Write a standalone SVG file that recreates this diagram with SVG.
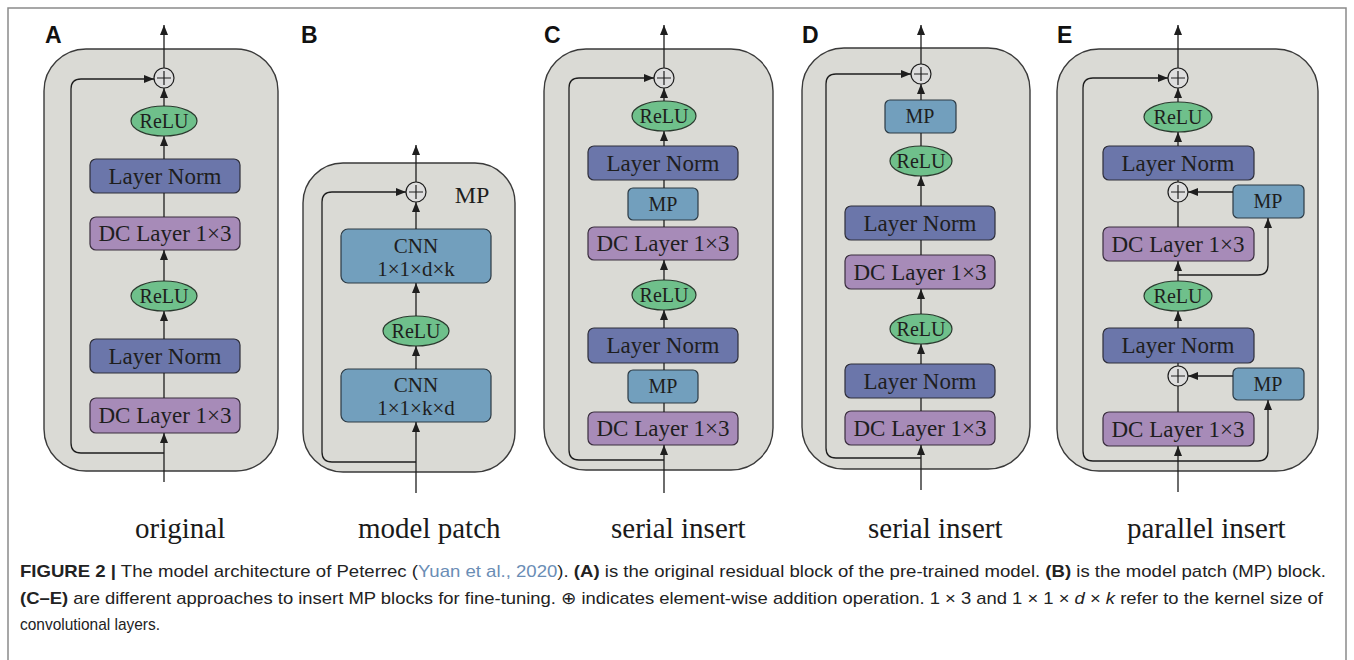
<svg xmlns="http://www.w3.org/2000/svg" width="1354" height="660" viewBox="0 0 1354 660">
<defs>
<marker id="ah" markerUnits="userSpaceOnUse" markerWidth="11" markerHeight="9" refX="10" refY="4" orient="auto">
<path d="M0,0 L10,4 L0,8 z" fill="#1e1e1e"/>
</marker>
<style>
.panel{fill:#dadad5;stroke:#3a3a3a;stroke-width:1.4}
.ln{fill:#6b76aa;stroke:#2e2e3a;stroke-width:1.2}
.dc{fill:#a78bb8;stroke:#3a2e3e;stroke-width:1.2}
.mp{fill:#729fbd;stroke:#2c3a44;stroke-width:1.2}
.relu{fill:#6fc08b;stroke:#2a3a2e;stroke-width:1.2}
.plus{fill:#dedede;stroke:#1e1e1e;stroke-width:1.2}
.pl{stroke:#1e1e1e;stroke-width:1.2;fill:none}
.c{stroke:#1e1e1e;stroke-width:1.3;fill:none}
.a{stroke:#1e1e1e;stroke-width:1.3;fill:none;marker-end:url(#ah)}
.t{font-family:"Liberation Serif","Times New Roman",serif;font-size:23px;fill:#1e1e1e;text-anchor:middle}
.tc{font-family:"Liberation Serif","Times New Roman",serif;font-size:21px;fill:#1e1e1e;text-anchor:middle}
.tr{font-family:"Liberation Serif","Times New Roman",serif;font-size:20px;fill:#1e1e1e;text-anchor:middle}
.lab{font-family:"Liberation Sans",Arial,sans-serif;font-weight:bold;font-size:23px;fill:#111}
.sub{font-family:"Liberation Serif","Times New Roman",serif;font-size:29px;fill:#1a1a1a}
.cap{font-family:"Liberation Sans",Arial,sans-serif;font-size:17px;fill:#222}
.b{font-weight:bold}
.ref{fill:#6a8db5}
</style>
</defs>
<rect x="8" y="8" width="1338" height="700" fill="none" stroke="#8a8a8a" stroke-width="1.5"/>

<!-- Panel A -->
<g id="panelA">
<rect class="panel" x="44" y="49" width="234" height="422" rx="42"/>
<text class="lab" x="45" y="43">A</text>
</g>
<g id="A_plus"><circle class="plus" cx="164" cy="78" r="10"/><path class="pl" d="M157,78 H171 M164,71 V85"/></g>
<g id="A_relu1"><ellipse class="relu" cx="164" cy="121" rx="33" ry="15"/><text class="tr" x="164" y="128">ReLU</text></g>
<g id="A_ln1"><rect class="ln" x="90" y="159" width="150" height="34" rx="6"/><text class="t" x="165" y="184">Layer Norm</text></g>
<g id="A_dc1"><rect class="dc" x="90" y="217" width="150" height="33" rx="6"/><text class="t" x="165" y="241">DC Layer 1×3</text></g>
<g id="A_relu2"><ellipse class="relu" cx="164" cy="296" rx="33" ry="15"/><text class="tr" x="164" y="303">ReLU</text></g>
<g id="A_ln2"><rect class="ln" x="90" y="339" width="150" height="34" rx="6"/><text class="t" x="165" y="364">Layer Norm</text></g>
<g id="A_dc2"><rect class="dc" x="90" y="398" width="150" height="35" rx="6"/><text class="t" x="165" y="423">DC Layer 1×3</text></g>

<!-- Panel B -->
<g id="panelB">
<rect class="panel" x="303" y="163" width="212" height="309" rx="40"/>
<text class="lab" x="301" y="43">B</text>
<text class="t" x="472" y="203" style="font-size:24px">MP</text>
</g>
<g id="B_plus"><circle class="plus" cx="416" cy="192" r="10"/><path class="pl" d="M409,192 H423 M416,185 V199"/></g>
<g id="B_cnn1"><rect class="mp" x="341" y="229" width="150" height="54" rx="7"/><text class="tc" x="416" y="253">CNN</text><text class="tc" x="416" y="276">1×1×d×k</text></g>
<g id="B_relu"><ellipse class="relu" cx="416" cy="331" rx="33" ry="15"/><text class="tr" x="416" y="338">ReLU</text></g>
<g id="B_cnn2"><rect class="mp" x="341" y="369" width="150" height="53" rx="7"/><text class="tc" x="416" y="392">CNN</text><text class="tc" x="416" y="415">1×1×k×d</text></g>

<!-- Panel C -->
<g id="panelC">
<rect class="panel" x="544" y="49" width="229" height="421" rx="42"/>
<text class="lab" x="544" y="43">C</text>
</g>
<g id="C_plus"><circle class="plus" cx="664" cy="78" r="10"/><path class="pl" d="M657,78 H671 M664,71 V85"/></g>
<g id="C_relu1"><ellipse class="relu" cx="664" cy="116" rx="32" ry="15"/><text class="tr" x="664" y="123">ReLU</text></g>
<g id="C_ln1"><rect class="ln" x="588" y="146" width="150" height="34" rx="6"/><text class="t" x="663" y="171">Layer Norm</text></g>
<g id="C_mp1"><rect class="mp" x="628" y="188" width="70" height="32" rx="5"/><text class="tr" x="663" y="211">MP</text></g>
<g id="C_dc1"><rect class="dc" x="588" y="227" width="150" height="33" rx="6"/><text class="t" x="663" y="251">DC Layer 1×3</text></g>
<g id="C_relu2"><ellipse class="relu" cx="664" cy="295" rx="32" ry="15"/><text class="tr" x="664" y="302">ReLU</text></g>
<g id="C_ln2"><rect class="ln" x="588" y="328" width="150" height="35" rx="6"/><text class="t" x="663" y="353">Layer Norm</text></g>
<g id="C_mp2"><rect class="mp" x="628" y="370" width="70" height="33" rx="5"/><text class="tr" x="663" y="393">MP</text></g>
<g id="C_dc2"><rect class="dc" x="588" y="412" width="150" height="33" rx="6"/><text class="t" x="663" y="436">DC Layer 1×3</text></g>

<!-- Panel D -->
<g id="panelD">
<rect class="panel" x="802" y="48" width="228" height="421" rx="42"/>
<text class="lab" x="802" y="43">D</text>
</g>
<g id="D_plus"><circle class="plus" cx="921" cy="74" r="10"/><path class="pl" d="M914,74 H928 M921,67 V81"/></g>
<g id="D_mp"><rect class="mp" x="885" y="100" width="71" height="33" rx="5"/><text class="tr" x="920" y="123">MP</text></g>
<g id="D_relu1"><ellipse class="relu" cx="921" cy="161" rx="31" ry="15"/><text class="tr" x="921" y="168">ReLU</text></g>
<g id="D_ln1"><rect class="ln" x="845" y="206" width="150" height="34" rx="6"/><text class="t" x="920" y="231">Layer Norm</text></g>
<g id="D_dc1"><rect class="dc" x="845" y="255" width="150" height="34" rx="6"/><text class="t" x="920" y="280">DC Layer 1×3</text></g>
<g id="D_relu2"><ellipse class="relu" cx="921" cy="329" rx="31" ry="15"/><text class="tr" x="921" y="336">ReLU</text></g>
<g id="D_ln2"><rect class="ln" x="845" y="364" width="150" height="34" rx="6"/><text class="t" x="920" y="389">Layer Norm</text></g>
<g id="D_dc2"><rect class="dc" x="845" y="411" width="150" height="34" rx="6"/><text class="t" x="920" y="436">DC Layer 1×3</text></g>

<!-- Panel E -->
<g id="panelE">
<rect class="panel" x="1057" y="49" width="261" height="422" rx="42"/>
<text class="lab" x="1057" y="43">E</text>
</g>
<g id="E_plus1"><circle class="plus" cx="1178" cy="78" r="10"/><path class="pl" d="M1171,78 H1185 M1178,71 V85"/></g>
<g id="E_relu1"><ellipse class="relu" cx="1178" cy="117" rx="34" ry="15"/><text class="tr" x="1178" y="124">ReLU</text></g>
<g id="E_ln1"><rect class="ln" x="1103" y="146" width="151" height="34" rx="6"/><text class="t" x="1178" y="171">Layer Norm</text></g>
<g id="E_plus2"><circle class="plus" cx="1178" cy="192" r="10"/><path class="pl" d="M1171,192 H1185 M1178,185 V199"/></g>
<g id="E_mp1"><rect class="mp" x="1233" y="185" width="71" height="33" rx="5"/><text class="tr" x="1268" y="208">MP</text></g>
<g id="E_dc1"><rect class="dc" x="1103" y="227" width="151" height="34" rx="6"/><text class="t" x="1178" y="252">DC Layer 1×3</text></g>
<g id="E_relu2"><ellipse class="relu" cx="1178" cy="296" rx="34" ry="15"/><text class="tr" x="1178" y="303">ReLU</text></g>
<g id="E_ln2"><rect class="ln" x="1103" y="328" width="151" height="35" rx="6"/><text class="t" x="1178" y="353">Layer Norm</text></g>
<g id="E_plus3"><circle class="plus" cx="1178" cy="376" r="10"/><path class="pl" d="M1171,376 H1185 M1178,369 V383"/></g>
<g id="E_mp2"><rect class="mp" x="1233" y="368" width="71" height="32" rx="5"/><text class="tr" x="1268" y="391">MP</text></g>
<g id="E_dc2"><rect class="dc" x="1103" y="412" width="151" height="34" rx="6"/><text class="t" x="1178" y="437">DC Layer 1×3</text></g>

<!-- Connectors -->
<g id="connectors">
<!-- A -->
<path class="a" d="M164,68 V25"/>
<path class="a" d="M164,106 V88"/>
<path class="a" d="M164,159 V136"/>
<path class="c" d="M164,217 V193"/>
<path class="a" d="M164,281 V250"/>
<path class="a" d="M164,339 V311"/>
<path class="c" d="M164,398 V373"/>
<path class="a" d="M164,482 V433"/>
<path class="a" d="M164,453 H81 Q71,453 71,443 V89 Q71,79 81,79 H154"/>
<!-- B -->
<path class="a" d="M416,182 V145"/>
<path class="a" d="M416,229 V202"/>
<path class="a" d="M416,316 V283"/>
<path class="a" d="M416,369 V346"/>
<path class="a" d="M416,493 V422"/>
<path class="a" d="M416,462 H332 Q322,462 322,452 V202 Q322,192 332,192 H406"/>
<!-- C -->
<path class="a" d="M664,68 V25"/>
<path class="a" d="M664,101 V88"/>
<path class="a" d="M664,146 V131"/>
<path class="c" d="M664,188 V180"/>
<path class="c" d="M664,227 V220"/>
<path class="a" d="M664,280 V260"/>
<path class="a" d="M664,328 V310"/>
<path class="c" d="M664,370 V363"/>
<path class="c" d="M664,412 V403"/>
<path class="a" d="M664,493 V445"/>
<path class="a" d="M664,460 H579 Q569,460 569,450 V88 Q569,78 579,78 H654"/>
<!-- D -->
<path class="a" d="M921,64 V25"/>
<path class="a" d="M921,100 V84"/>
<path class="c" d="M921,146 V133"/>
<path class="a" d="M921,206 V176"/>
<path class="c" d="M921,255 V240"/>
<path class="a" d="M921,314 V289"/>
<path class="a" d="M921,364 V344"/>
<path class="c" d="M921,411 V398"/>
<path class="a" d="M921,490 V445"/>
<path class="a" d="M921,458 H836 Q826,458 826,448 V84 Q826,74 836,74 H911"/>
<!-- E -->
<path class="a" d="M1178,68 V25"/>
<path class="a" d="M1178,102 V88"/>
<path class="a" d="M1178,146 V132"/>
<path class="c" d="M1178,182 V180"/>
<path class="a" d="M1233,192 H1188"/>
<path class="c" d="M1178,227 V202"/>
<path class="a" d="M1178,275 H1258 Q1268,275 1268,265 V218"/>
<path class="a" d="M1178,281 V261"/>
<path class="a" d="M1178,328 V311"/>
<path class="c" d="M1178,366 V363"/>
<path class="a" d="M1233,376 H1188"/>
<path class="c" d="M1178,412 V386"/>
<path class="a" d="M1178,492 V446"/>
<path class="a" d="M1178,461 H1093 Q1083,461 1083,451 V88 Q1083,78 1093,78 H1168"/>
<path class="a" d="M1178,461 H1258 Q1268,461 1268,451 V400"/>
</g>

<!-- Subtitles -->
<text class="sub" x="135" y="538">original</text>
<text class="sub" x="358" y="538">model patch</text>
<text class="sub" x="611" y="538">serial insert</text>
<text class="sub" x="868" y="538">serial insert</text>
<text class="sub" x="1127" y="538">parallel insert</text>

<!-- Caption -->
<text class="cap" x="20" y="577" textLength="1306" lengthAdjust="spacingAndGlyphs"><tspan class="b">FIGURE 2 |</tspan> The model architecture of Peterrec (<tspan class="ref">Yuan et al., 2020</tspan>). <tspan class="b">(A)</tspan> is the original residual block of the pre-trained model. <tspan class="b">(B)</tspan> is the model patch (MP) block.</text>
<text class="cap" x="20" y="604" textLength="1303" lengthAdjust="spacingAndGlyphs"><tspan class="b">(C–E)</tspan> are different approaches to insert MP blocks for fine-tuning. ⊕ indicates element-wise addition operation. 1 × 3 and 1 × 1 × <tspan font-style="italic">d</tspan> × <tspan font-style="italic">k</tspan> refer to the kernel size of</text>
<text class="cap" x="20" y="630" textLength="140" lengthAdjust="spacingAndGlyphs">convolutional layers.</text>
</svg>
